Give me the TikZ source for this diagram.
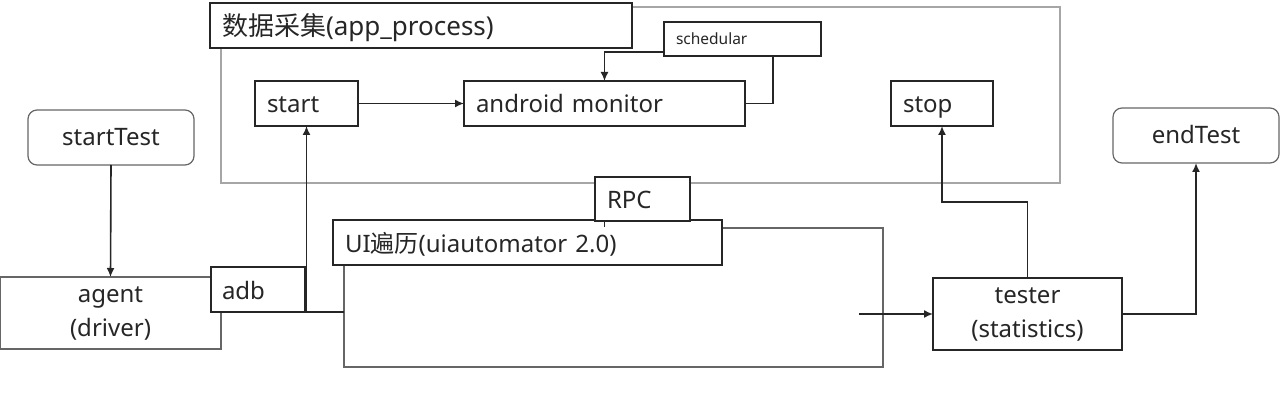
\documentclass[tikz,border=0pt]{standalone}
\usepackage{fontspec}
\setmainfont{Noto Sans}
\newfontfamily\cjkfam{Noto Sans CJK SC}
\usetikzlibrary{arrows.meta}
\definecolor{ink}{HTML}{262626}
\definecolor{lightline}{HTML}{A6A6A6}
\definecolor{midline}{HTML}{666666}
\begin{document}
\begin{tikzpicture}[x=1pt,y=-1pt,
  every node/.style={inner sep=0pt, outer sep=0pt, text=ink},
  box/.style={draw=ink, line width=1.6pt, fill=white, rectangle, anchor=north west,
     inner xsep=12pt, align=left, text height=19pt, text depth=0pt,
     font=\fontsize{24}{28}\selectfont},
  cbox/.style={rectangle, align=center, font=\fontsize{24}{34}\selectfont},
  rbox/.style={draw=midline, line width=1.2pt, rounded corners=9pt, fill=white, rectangle,
     align=center, text height=17pt, text depth=0pt, font=\fontsize{24}{28}\selectfont,
     minimum width=166pt, minimum height=55pt},
  conn/.style={draw=ink, line width=1.6pt},
  arr/.style={conn, -{Latex[length=9pt,width=8pt]}}]
\useasboundingbox (0,0) rectangle (1280,409);
% outer app_process frame
\draw[lightline, line width=1.6pt] (221,7) rectangle (1060,183);
\node[box, text width=398pt, minimum height=45pt, text height=21pt, font=\fontsize{26}{30}\selectfont] (title) at (210,3)
  {{\cjkfam 数据采集}(app\_process)};
\node[box, text width=133pt, minimum height=34pt, text height=12pt, font=\fontsize{15.5}{18}\selectfont] (sched) at (664,22) {schedular};
\node[box, text width=79pt, minimum height=45pt] (start) at (255,81) {start};
\node[box, text width=257pt, minimum height=45pt] (monitor) at (464,81) {android monitor};
\node[box, text width=78pt, minimum height=45pt] (stop) at (891,81) {stop};
% start / end
\node[rbox] (startTest) at (111,137.5) {startTest};
\node[rbox] (endTest) at (1196,135.5) {endTest};
% agent
\node[cbox, draw=midline, line width=1.4pt, minimum width=221pt, minimum height=72pt, anchor=north west] (agent) at (0,277) {agent\\(driver)};
\node[box, text width=72pt, inner xsep=11pt, minimum height=45pt] (adb) at (211,267) {adb};
% UI traversal
\node[draw=midline, line width=1.4pt, rectangle, anchor=north west, minimum width=539pt, minimum height=139pt] (uimain) at (344,228) {};
\node[box, text width=365pt, minimum height=45pt] (uititle) at (333,220) {UI{\cjkfam 遍历}(uiautomator 2.0)};
\node[box, text width=71pt, minimum height=44pt] (rpc) at (595,177) {RPC};
% tester
\node[cbox, draw=ink, line width=1.4pt, fill=white, minimum width=189pt, minimum height=72pt, anchor=north west] (tester) at (933,278) {tester\\(statistics)};
% connectors
\draw[arr] (startTest.south) -- (agent.north);
\draw[conn] (adb.south east) -- (adb.south east -| uimain.west);
\draw[arr] (start.south |- adb.south) -- (start.south);
\draw[arr] (start.east) -- (monitor.west);
\draw[arr] ([yshift=4pt]sched.south west) -| (monitor.north);
\draw[conn] ([xshift=30.5pt]sched.south) |- (monitor.east);
\draw[conn, line width=0.9pt] ([xshift=9pt]rpc.south west) -- ++(0,6);
\coordinate (uiout) at (859,314);
\draw[arr] (uiout) -- (tester.west);
\draw[arr] (tester.north) -- (tester.north |- 0,202) -| (stop.south);
\draw[arr] (tester.east) -| (endTest.south);
\end{tikzpicture}
\end{document}
